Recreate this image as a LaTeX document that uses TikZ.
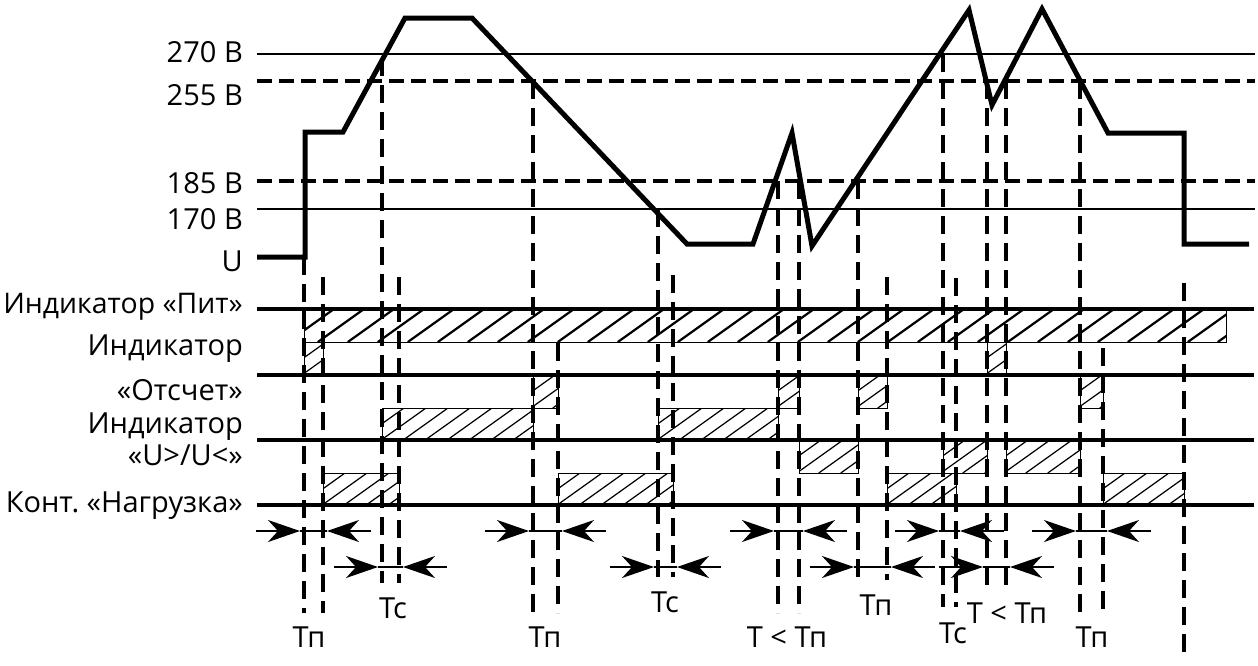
\documentclass[tikz,border=0pt]{standalone}
\usepackage{fontspec}
\setmainfont{Open Sans}
\usetikzlibrary{arrows.meta}
\tikzset{
  level/.style={line width=2.5pt},
  leveldash/.style={line width=3.5pt, dash pattern=on 15pt off 7pt},
  wave/.style={line width=5pt, line join=miter},
  guide/.style={line width=4pt, dash pattern=on 18pt off 9pt},
  rowline/.style={line width=3.5pt},
  lbl/.style={anchor=base east, inner sep=0pt, font=\fontsize{29}{34}\selectfont},
  tlbl/.style={anchor=base, inner sep=0pt, font=\fontsize{29}{34}\selectfont},
  dimline/.style={line width=1.5pt},
  dimarrow/.style={line width=1.5pt, -{Stealth[length=32pt,width=22pt,inset=10pt]}},
  barframe/.style={line width=1pt},
}
\newcommand\hatchbar[6]{%
  \begin{scope}
    \clip (#1,#2) rectangle (#3,#4);
    \pgfmathsetmacro\hh{#4-#2}
    \pgfmathsetmacro\hdx{1.4*\hh}
    \pgfmathsetmacro\hs{#1-\hdx}
    \pgfmathsetmacro\hn{\hs+#5}
    \foreach \s in {\hs,\hn,...,#3} \draw[line width=#6] (\s,#4) -- ++(\hdx,-\hh);
  \end{scope}
  \draw[barframe] (#1,#2) rectangle (#3,#4);
}
\newcommand\dimpair[3]{% xleft xright y
  \pgfmathsetmacro\dl{#1-48}
  \pgfmathsetmacro\dr{#2+48}
  \pgfmathsetmacro\tl{#1-4}
  \pgfmathsetmacro\tr{#2+4}
  \draw[dimarrow] (\dl,#3) -- (\tl,#3);
  \draw[dimline] (\tl,#3) -- (\tr,#3);
  \draw[dimarrow] (\dr,#3) -- (\tr,#3);
}
\begin{document}
\frenchspacing
\begin{tikzpicture}[x=1pt,y=-1pt]
\useasboundingbox (0,0) rectangle (1258,665);

% voltage levels
\draw[level] (257,54) -- (1255,54);
\draw[leveldash] (257,81) -- (1255,81);
\draw[leveldash] (257,181) -- (1255,181);
\draw[level] (257,209) -- (1255,209);

\node[lbl] (l270) at (243,62) {270 В};
\node[lbl] (l255) at (243,105) {255 В};
\node[lbl] (l185) at (243,193) {185 В};
\node[lbl] (l170) at (243,229) {170 В};
\node[lbl] (lu) at (243,271) {U};

% bars
\hatchbar{304}{309}{1226}{342}{30}{2.2pt}
\hatchbar{304}{342}{323}{375}{22}{1.2pt}
\hatchbar{533}{375}{558}{408}{22}{1.2pt}
\hatchbar{778}{375}{799}{408}{22}{1.2pt}
\hatchbar{858}{375}{887}{408}{22}{1.2pt}
\hatchbar{987}{342}{1006}{375}{22}{1.2pt}
\hatchbar{1080}{375}{1103}{408}{22}{1.2pt}
\hatchbar{382}{408}{533}{440}{22}{1.2pt}
\hatchbar{658}{408}{778}{440}{22}{1.2pt}
\hatchbar{799}{440}{858}{473}{22}{1.2pt}
\hatchbar{943}{440}{987}{473}{22}{1.2pt}
\hatchbar{1006}{440}{1080}{473}{22}{1.2pt}
\hatchbar{323}{473}{399}{505}{22}{1.2pt}
\hatchbar{558}{473}{673}{505}{22}{1.2pt}
\hatchbar{887}{473}{956}{505}{22}{1.2pt}
\hatchbar{1103}{473}{1184}{505}{22}{1.2pt}

% row lines
\draw[rowline] (257,309) -- (1254,309);
\draw[rowline] (257,375) -- (1254,375);
\draw[rowline] (257,440) -- (1254,440);
\draw[rowline] (257,505) -- (1254,505);

\node[lbl, font=\fontsize{28.4}{34}\selectfont] (rpit) at (243,313) {Индикатор «Пит»};
\node[lbl] (rots1) at (243,355) {Индикатор};
\node[lbl] (rots2) at (243,400) {«Отсчет»};
\node[lbl] (ru1) at (243,433) {Индикатор};
\node[lbl] (ru2) at (243,465) {«U>/U<»};
\node[lbl] (rnag) at (243,512) {Конт. «Нагрузка»};

% guide lines
\foreach \x/\a/\b in {304/257/613, 323/277/613, 382/58/583, 399/277/583,
  533/81/613, 558/343/613, 658/209/577, 673/275/577, 778/181/613, 799/181/613,
  858/181/580, 887/277/580, 943/54/607, 956/278/607, 987/81/592, 1006/81/592,
  1080/81/613, 1103/348/613, 1184/283/652}
  \draw[guide] (\x,\a) -- (\x,\b);

% waveform
\draw[wave] (257,257) -- (305,257) -- (305,132) -- (343,132) -- (405,18)
  -- (472,18) -- (687,244) -- (753,244) -- (792,133) -- (812,246)
  -- (969,10) -- (992,105) -- (1042,9) -- (1108,133) -- (1184,133)
  -- (1184,244) -- (1249,244);

% time dimensions
\dimpair{304}{323}{531}
\dimpair{533}{558}{531}
\dimpair{778}{799}{531}
\dimpair{943}{956}{531}
\dimpair{1080}{1103}{531}
\dimpair{382}{399}{567}
\dimpair{658}{673}{567}
\dimpair{858}{887}{567}
\dimpair{987}{1006}{567}

\node[tlbl] (t1) at (309,647) {Тп};
\node[tlbl] (t2) at (393,618) {Тс};
\node[tlbl] (t3) at (545,647) {Тп};
\node[tlbl] (t4) at (665,612) {Тс};
\node[tlbl] (t5) at (787,647) {Т < Тп};
\node[tlbl] (t6) at (876,615) {Тп};
\node[tlbl] (t7) at (953,643) {Тс};
\node[tlbl] (t8) at (1007,623) {Т < Тп};
\node[tlbl] (t9) at (1092,647) {Тп};
\end{tikzpicture}
\end{document}
